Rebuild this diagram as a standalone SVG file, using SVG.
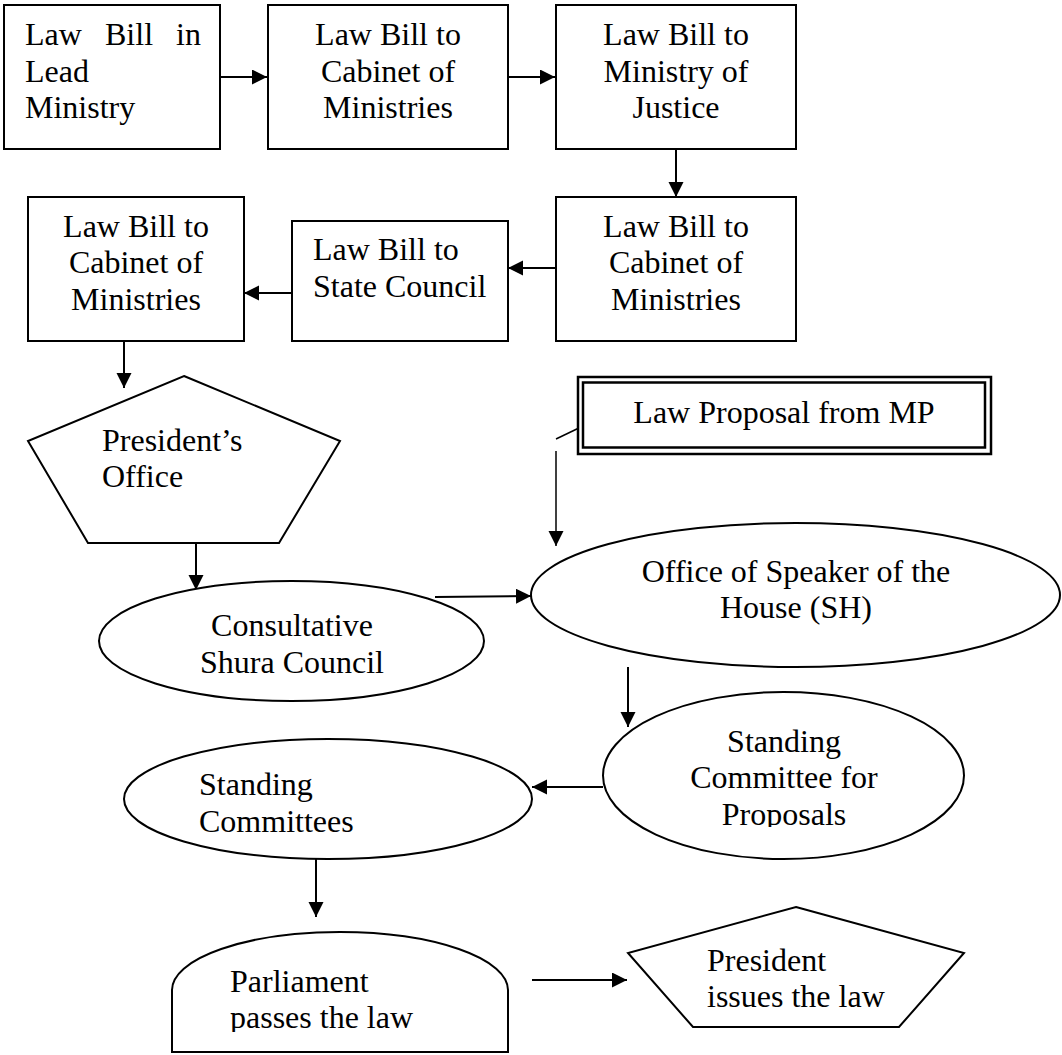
<svg xmlns="http://www.w3.org/2000/svg" width="1062" height="1055" viewBox="0 0 1062 1055">
<style>
.n{fill:#fff;stroke:#000;stroke-width:2}
.t{font-family:"Liberation Serif","Times New Roman",serif;font-size:32px;fill:#000}
.c{text-anchor:middle}
.e{stroke:#000;stroke-width:2;fill:none}
.a{stroke:#000;stroke-width:2;fill:none;marker-end:url(#ah)}
.th{stroke-width:1.5}
</style>
<defs>
<marker id="ah" markerUnits="userSpaceOnUse" markerWidth="16" markerHeight="16" refX="15" refY="7.5" orient="auto">
<path d="M0,0 L15,7.5 L0,15 Z" fill="#000"/>
</marker>
<clipPath id="clipScp"><rect x="600" y="690" width="370" height="137"/></clipPath>
<clipPath id="clipParl"><rect x="170" y="930" width="340" height="102"/></clipPath>
</defs>
<rect width="1062" height="1055" fill="#fff"/>
<g id="connectors">
<line class="a" x1="220" y1="77" x2="267" y2="77"/>
<line class="a" x1="508" y1="77" x2="555" y2="77"/>
<line class="a" x1="676" y1="149" x2="676" y2="197"/>
<line class="a" x1="556" y1="268" x2="508" y2="268"/>
<line class="a" x1="292" y1="293" x2="244" y2="293"/>
<line class="a" x1="124" y1="341" x2="124" y2="388"/>
<line class="a" x1="196" y1="543" x2="196" y2="590"/>
<line class="a" x1="435" y1="597" x2="531" y2="596"/>
<line class="e th" x1="556" y1="439" x2="581" y2="427"/>
<line class="a th" x1="556" y1="451" x2="556" y2="546"/>
<line class="a" x1="628" y1="667" x2="628" y2="727"/>
<line class="a" x1="603" y1="787" x2="532" y2="787"/>
<line class="a" x1="316" y1="859" x2="316" y2="917"/>
<line class="a" x1="532" y1="980" x2="627" y2="980"/>
</g>
<g id="lead-ministry">
<rect class="n" x="4" y="5" width="216" height="144"/>
<text class="t" y="45"><tspan x="25">Law</tspan><tspan x="105">Bill</tspan><tspan x="176">in</tspan></text>
<text class="t" x="25" y="82">Lead</text>
<text class="t" x="25" y="118">Ministry</text>
</g>
<g id="cabinet-1">
<rect class="n" x="268" y="5" width="240" height="144"/>
<text class="t c" x="388" y="45">Law Bill to</text>
<text class="t c" x="388" y="82">Cabinet of</text>
<text class="t c" x="388" y="118">Ministries</text>
</g>
<g id="justice">
<rect class="n" x="556" y="5" width="240" height="144"/>
<text class="t c" x="676" y="45">Law Bill to</text>
<text class="t c" x="676" y="82">Ministry of</text>
<text class="t c" x="676" y="118">Justice</text>
</g>
<g id="cabinet-2">
<rect class="n" x="556" y="197" width="240" height="144"/>
<text class="t c" x="676" y="237">Law Bill to</text>
<text class="t c" x="676" y="273">Cabinet of</text>
<text class="t c" x="676" y="310">Ministries</text>
</g>
<g id="state-council">
<rect class="n" x="292" y="221" width="216" height="120"/>
<text class="t" x="313" y="260">Law Bill to</text>
<text class="t" x="313" y="297">State Council</text>
</g>
<g id="cabinet-3">
<rect class="n" x="28" y="197" width="216" height="144"/>
<text class="t c" x="136" y="237">Law Bill to</text>
<text class="t c" x="136" y="273">Cabinet of</text>
<text class="t c" x="136" y="310">Ministries</text>
</g>
<g id="presidents-office">
<polygon class="n" points="184,376 340,441 279,543 88,543 28,441"/>
<text class="t" x="102" y="451">President’s</text>
<text class="t" x="102" y="487">Office</text>
</g>
<g id="law-proposal-mp">
<rect x="578" y="377" width="413" height="77" fill="#fff" stroke="#000" stroke-width="2.5"/>
<rect x="583" y="382.5" width="402" height="65" fill="none" stroke="#000" stroke-width="2.5"/>
<text class="t c" x="784" y="423">Law Proposal from MP</text>
</g>
<g id="shura-council">
<ellipse class="n" cx="291.5" cy="641" rx="192.5" ry="60"/>
<text class="t c" x="292" y="636">Consultative</text>
<text class="t c" x="292" y="673">Shura Council</text>
</g>
<g id="speaker-office">
<ellipse class="n" cx="795.5" cy="595" rx="264.5" ry="72"/>
<text class="t c" x="796" y="582">Office of Speaker of the</text>
<text class="t c" x="796" y="618">House (SH)</text>
</g>
<g id="standing-committee-proposals">
<ellipse class="n" cx="783.5" cy="775.5" rx="180.5" ry="83.5"/>
<g clip-path="url(#clipScp)">
<text class="t c" x="784" y="752">Standing</text>
<text class="t c" x="784" y="788">Committee for</text>
<text class="t c" x="784" y="825">Proposals</text>
</g>
</g>
<g id="standing-committees">
<ellipse class="n" cx="328" cy="799" rx="204" ry="60"/>
<text class="t" x="199" y="795">Standing</text>
<text class="t" x="199" y="832">Committees</text>
</g>
<g id="parliament">
<path class="n" d="M172,1052 L172,990 A168,58 0 0 1 508,990 L508,1052 Z"/>
<g clip-path="url(#clipParl)">
<text class="t" x="230" y="992">Parliament</text>
<text class="t" x="230" y="1028">passes the law</text>
</g>
</g>
<g id="president-issues">
<polygon class="n" points="796,907 964,953 899,1027 693,1027 628,953"/>
<text class="t" x="707" y="971">President</text>
<text class="t" x="707" y="1007">issues the law</text>
</g>
</svg>
